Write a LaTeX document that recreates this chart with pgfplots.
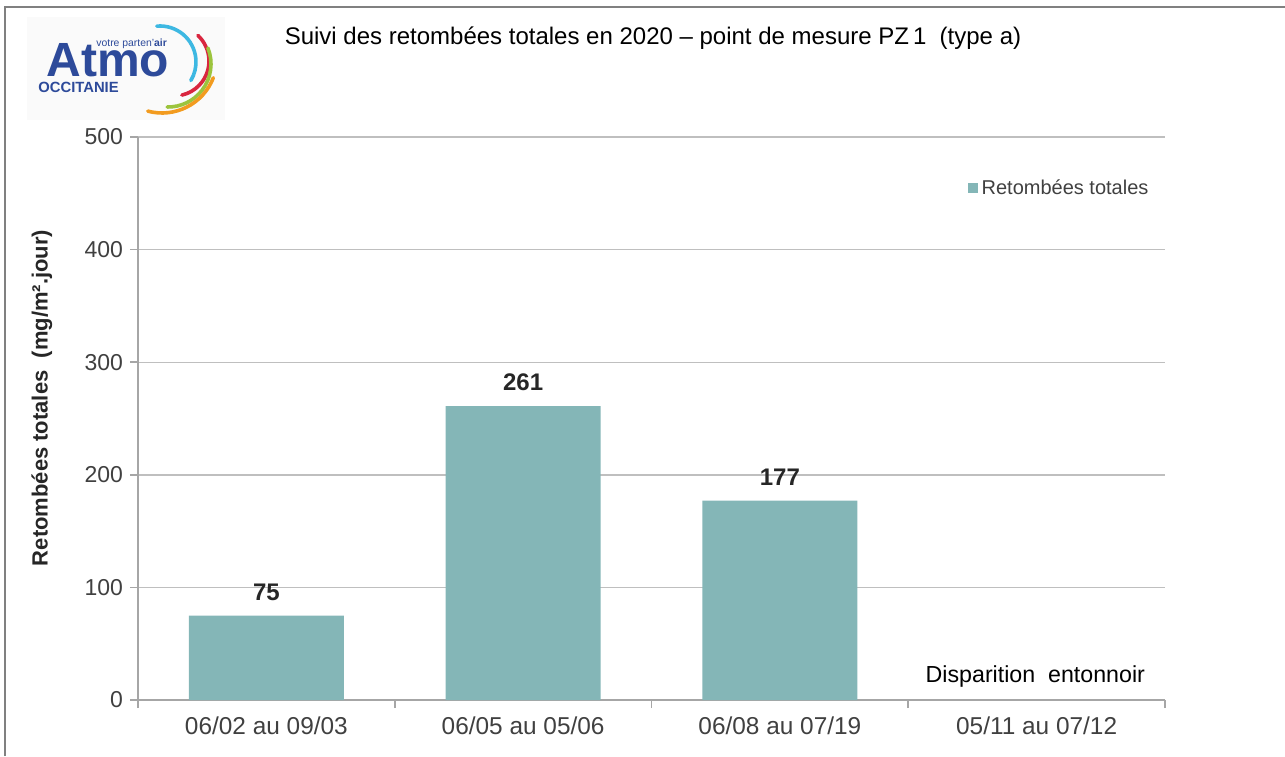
\documentclass[border=0pt]{standalone}
\usepackage{fontspec}
\setmainfont{Liberation Sans}
\usepackage{pgfplots}
\pgfplotsset{compat=1.18}

\definecolor{barteal}{HTML}{84B6B7}
\definecolor{gridgray}{HTML}{BFBFBF}
\definecolor{axgray}{HTML}{A6A6A6}
\definecolor{txtgray}{HTML}{404040}
\definecolor{atmoblue}{HTML}{2D4A9A}
\definecolor{arccyan}{HTML}{3DB8E2}
\definecolor{arcred}{HTML}{D9263F}
\definecolor{arcgreen}{HTML}{9CC43D}
\definecolor{arcorange}{HTML}{F29B1F}

\begin{document}
\begin{tikzpicture}
\useasboundingbox (0,0) rectangle (642.5pt,378pt);

% frame, cut at the right and bottom
\draw[gray, line width=1pt] (2.5pt,0) -- (2.5pt,374.3pt) -- (642.5pt,374.3pt);

\begin{axis}[
    at={(69pt,28pt)}, anchor=south west,
    scale only axis,
    width=513.5pt, height=281.5pt,
    /pgf/number format/assume math mode=true,
    ymin=0, ymax=500,
    xmin=-0.5, xmax=3.5,
    ytick={0,100,...,500},
    xtick={-0.5,0.5,1.5,2.5,3.5},
    xticklabels={},
    extra x ticks={0,1,2,3},
    extra x tick labels={06/02 au 09/03, 06/05 au 05/06, 06/08 au 07/19, 05/11 au 07/12},
    extra x tick style={major tick length=0pt, grid=none,
        tick label style={font=\fontsize{12.2}{14}\selectfont, text=txtgray, yshift=-5pt}},
    axis lines=left,
    axis line style={axgray, line width=0.8pt, -},
    tick align=outside,
    major tick length=4pt,
    tick style={axgray, line width=0.8pt},
    ymajorgrids=true,
    grid style={gridgray, line width=0.7pt},
    yticklabel style={font=\fontsize{11.5}{13}\selectfont, text=txtgray, xshift=0pt},
    ybar,
    bar width=77.5pt,
    nodes near coords,
    nodes near coords style={font=\bfseries\fontsize{12}{14}\selectfont, text=black!85, yshift=4pt},
    legend style={draw=none, fill=none, at={(rel axis cs:0.994,0.909)}, anchor=east,
        font=\fontsize{10}{12}\selectfont, text=txtgray},
    legend image code/.code={\fill[barteal] (0pt,-2.5pt) rectangle (5pt,2.5pt);},
]
\addplot[fill=barteal, draw=none] coordinates {(0,75) (1,261) (2,177)};
\legend{Retombées totales}
\node[font=\fontsize{11.6}{14}\selectfont, text=black] at (axis cs:2.995,21.3) {Disparition\ \ entonnoir};
\end{axis}

\begin{scope}[x=0.5pt, y=-0.5pt, shift={(0,378pt)}]
  % title
  \node[font=\fontsize{12}{14}\selectfont, text=black] at (653,38)
    {Suivi des retombées totales en 2020 – point de mesure PZ\,1\ \ (type a)};
  % y label
  \node[rotate=90, font=\bfseries\fontsize{11}{13}\selectfont, text=black!85] at (42,398)
    {Retombées totales\ \ (mg/m².jour)};
  % logo (y is flipped here, so angles are negated)
  \fill[black!2] (27,17) rectangle (225,120);
  \node[anchor=base west, font=\bfseries\fontsize{24}{26}\selectfont, text=atmoblue, inner sep=0pt] at (46,77) {Atmo};
  \node[anchor=base west, font=\bfseries\fontsize{7.4}{8}\selectfont, text=atmoblue, inner sep=0pt] at (38,93) {OCCITANIE};
  \node[anchor=base west, font=\fontsize{5.2}{6}\selectfont, text=atmoblue, inner sep=0pt] at (96,47) {votre parten'\textbf{air}};
  \draw[arccyan, line width=1.8pt, line cap=round] (160,62) ++(-95:36) arc (-95:31:36);
  \draw[arcred, line width=1.8pt, line cap=round] (174,61) ++(-47:35) arc (-47:77:35);
  \draw[arcgreen, line width=1.8pt, line cap=round] (168,64) ++(-22:43) arc (-22:91:43);
  \draw[arcorange, line width=1.8pt, line cap=round] (162,58) ++(21:55) arc (21:105:55);
\end{scope}
\end{tikzpicture}
\end{document}
